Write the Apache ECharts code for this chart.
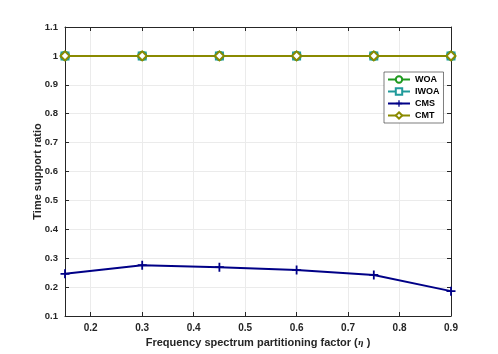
<!DOCTYPE html>
<html>
<head>
<meta charset="utf-8">
<script src="https://cdn.jsdelivr.net/npm/echarts@6/dist/echarts.min.js"></script>
<style>
  html, body { margin: 0; padding: 0; background: #fff; }
  #chart { width: 498px; height: 354px; }
</style>
</head>
<body>
<div id="chart"></div>
<script>
// partitioning factor values
var etaValues = [0.15, 0.3, 0.45, 0.6, 0.75, 0.9];
var xTicks = [0.2, 0.3, 0.4, 0.5, 0.6, 0.7, 0.8, 0.9];
var woa = [1, 1, 1, 1, 1, 1];
var iwoa = [1, 1, 1, 1, 1, 1];
var cms = [0.246, 0.276, 0.269, 0.259, 0.242, 0.186];
var cmt = [1, 1, 1, 1, 1, 1];

var plusPath = 'path://M4 0H6V4H10V6H6V10H4V6H0V4H4Z';
var axisColor = '#262626';
var font = 'Liberation Sans, Arial, sans-serif';

function pairs(ys) {
  return etaValues.map(function (x, i) { return [x, ys[i]]; });
}

function makeSeries(name, ys, color, symbol, size, filled) {
  return {
    name: name,
    type: 'line',
    data: pairs(ys),
    symbol: symbol,
    symbolSize: size,
    showAllSymbol: true,
    lineStyle: { color: color, width: 2 },
    itemStyle: {
      color: filled ? color : '#ffffff',
      borderColor: color,
      borderWidth: filled ? 0 : 2
    },
    emphasis: { disabled: true },
    z: 3
  };
}

var chart = echarts.init(document.getElementById('chart'));

var xBase = {
  type: 'value',
  min: 0.15,
  max: 0.9,
  axisLine: { lineStyle: { color: axisColor, width: 1 } },
  axisTick: { inside: true, length: 4, customValues: xTicks, lineStyle: { color: axisColor } },
  splitLine: { show: false }
};

var yBase = {
  type: 'value',
  min: 0.1,
  max: 1.1,
  interval: 0.1,
  axisLine: { lineStyle: { color: axisColor, width: 1 } },
  axisTick: { inside: true, length: 4, lineStyle: { color: axisColor } },
  splitLine: { show: false }
};

chart.setOption({
  animation: false,
  backgroundColor: '#ffffff',
  grid: { left: 65, right: 47, top: 27, bottom: 38, containLabel: false },
  legend: {
    left: 384,
    top: 72,
    orient: 'vertical',
    itemWidth: 22,
    itemHeight: 8,
    itemGap: 3,
    padding: [3, 4, 3, 3],
    borderColor: '#262626',
    borderWidth: 0.6,
    backgroundColor: '#ffffff',
    textStyle: { fontFamily: font, fontSize: 9, fontWeight: 'bold', color: '#000' },
    data: ['WOA', 'IWOA', 'CMS', 'CMT']
  },
  xAxis: [
    Object.assign({}, xBase, {
      position: 'bottom',
      name: 'Frequency spectrum partitioning factor ({eta|η} )',
      nameLocation: 'middle',
      nameGap: 21,
      nameTextStyle: {
        fontFamily: font, fontSize: 11, fontWeight: 'bold', color: axisColor,
        rich: { eta: { fontFamily: 'DejaVu Serif', fontStyle: 'italic', fontSize: 8, color: axisColor } }
      },
      axisLabel: {
        customValues: xTicks,
        fontFamily: font, fontSize: 10, fontWeight: 'bold', color: axisColor, margin: 7,
        formatter: function (v) { return (+v).toFixed(1); }
      },
      splitLine: { show: true, lineStyle: { color: '#ebebeb', width: 1 } }
    }),
    Object.assign({}, xBase, {
      position: 'top',
      axisLabel: { show: false, customValues: xTicks }
    })
  ],
  yAxis: [
    Object.assign({}, yBase, {
      position: 'left',
      name: 'Time support ratio',
      nameLocation: 'middle',
      nameGap: 22,
      nameMoveOverlap: false,
      nameTextStyle: { fontFamily: font, fontSize: 11, fontWeight: 'bold', color: axisColor },
      axisLabel: {
        fontFamily: font, fontSize: 9.5, fontWeight: 'bold', color: axisColor, margin: 7,
        formatter: function (v) { return String(+(+v).toFixed(1)); }
      },
      splitLine: { show: true, lineStyle: { color: '#ebebeb', width: 1 } }
    }),
    Object.assign({}, yBase, {
      position: 'right',
      axisLabel: { show: false }
    })
  ],
  series: [
    makeSeries('WOA', woa, '#1f9a1f', 'circle', 8, false),
    makeSeries('IWOA', iwoa, '#1f9a9a', 'rect', 7, false),
    makeSeries('CMS', cms, '#000087', plusPath, 9, true),
    makeSeries('CMT', cmt, '#8a8a00', 'diamond', 9, false)
  ]
});
</script>
</body>
</html>
